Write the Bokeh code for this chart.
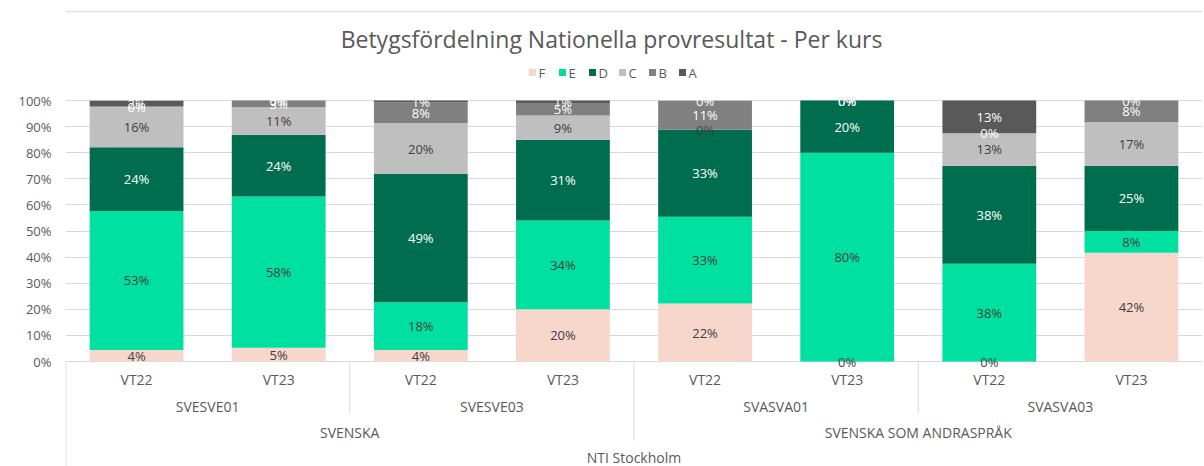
from bokeh.plotting import figure
from bokeh.models import ColumnDataSource, Range1d, FixedTicker, PrintfTickFormatter
from bokeh.core.properties import value
from bokeh.embed import file_html
from bokeh.resources import INLINE

# ---- data ----
terms = ["VT22", "VT23", "VT22", "VT23", "VT22", "VT23", "VT22", "VT23"]
courses = ["SVESVE01", "SVESVE03", "SVASVA01", "SVASVA03"]
subjects = ["SVENSKA", "SVENSKA SOM ANDRASPRÅK"]
school = "NTI Stockholm"
grades = ["F", "E", "D", "C", "B", "A"]

F = [4.4, 5.3, 4.4, 20.0, 22.2, 0.0, 0.0, 41.7]
E = [53.3, 57.9, 18.3, 34.0, 33.3, 80.0, 37.5, 8.3]
D = [24.4, 23.7, 49.1, 31.0, 33.3, 20.0, 37.5, 25.0]
C = [15.6, 10.5, 19.6, 9.3, 0.0, 0.0, 12.5, 16.7]
B = [0.0, 2.6, 7.8, 4.7, 11.1, 0.0, 0.0, 8.3]
A = [2.2, 0.0, 0.8, 1.0, 0.0, 0.0, 12.5, 0.0]

title_text = "Betygsfördelning Nationella provresultat - Per kurs"
y_ticks = [0, 10, 20, 30, 40, 50, 60, 70, 80, 90, 100]

# ---- styles ----
colors = ["#f7d6cc", "#00e0a0", "#006e4e", "#bfbfbf", "#808080", "#595959"]
label_colors = ["#404040", "#404040", "#ffffff", "#404040", "#ffffff", "#ffffff"]
FONT = "Open Sans"
TXT = "#595959"

series = [F, E, D, C, B, A]
n = len(terms)
xs = [i + 0.5 for i in range(n)]

W, H = 1204, 466
LEFT = 65
px_x = (W - 2 - LEFT) / n   # px per category
px_y = 2.61                 # px per percent
y_lo = -(H - 361) / px_y
y_hi = 361 / px_y


def sx(px):
    return (px - LEFT) / px_x


def sy(py):
    return (361 - py) / px_y


p = figure(width=W, height=H, output_backend="svg", toolbar_location=None,
           x_range=Range1d(0, n), y_range=Range1d(y_lo, y_hi),
           x_axis_location=None, tools="")
p.min_border_left = LEFT
p.min_border_right = 2
p.min_border_top = 0
p.min_border_bottom = 0
p.outline_line_color = None
p.background_fill_color = "white"
p.border_fill_color = "white"

p.xgrid.visible = False
p.ygrid.ticker = FixedTicker(ticks=y_ticks)
p.ygrid.grid_line_color = "#d9d9d9"
p.ygrid.grid_line_width = 1

ax = p.yaxis[0]
ax.ticker = FixedTicker(ticks=y_ticks)
ax.formatter = PrintfTickFormatter(format="%d%%")
ax.axis_line_color = None
ax.major_tick_line_color = None
ax.minor_tick_line_color = None
ax.major_label_standoff = 8
ax.major_label_text_font = FONT
ax.major_label_text_font_size = "13px"
ax.major_label_text_color = TXT

# stacked bars
data = {"x": xs}
for g, s in zip(grades, series):
    data[g] = s
src = ColumnDataSource(data)
p.vbar_stack(grades, x="x", width=0.66, color=colors, line_color=None, source=src)

# data labels
lx, ly, lt, lc = [], [], [], []
for i in range(n):
    cum = 0.0
    for gi, s in enumerate(series):
        v = s[i]
        lx.append(xs[i])
        ly.append(cum + v / 2)
        lt.append(f"{int(v + 0.5)}%")
        lc.append(label_colors[gi])
        cum += v
p.text(x=lx, y=ly, text=lt, text_color=lc, text_font=value(FONT),
       text_font_size=value("13px"), text_align="center", text_baseline="middle")

# chart border (top)
p.segment(x0=[0], y0=[sy(11)], x1=[n], y1=[sy(11)], line_color="#e3e3e3", line_width=1.5)

# category axis lines
sep_x = [0.003, 2, 4, 6]
sep_y1 = [y_lo, sy(413), sy(440), sy(413)]
p.segment(x0=sep_x, y0=[0] * 4, x1=sep_x, y1=sep_y1, line_color="#d9d9d9", line_width=1)

# category labels
p.text(x=xs, y=[sy(379)] * n, text=terms, text_color=TXT, text_font=value(FONT),
       text_font_size=value("14px"), text_align="center", text_baseline="middle")
p.text(x=[2 * k + 1 for k in range(len(courses))], y=[sy(406)] * len(courses), text=courses,
       text_color=TXT, text_font=value(FONT), text_font_size=value("14px"),
       text_align="center", text_baseline="middle")
p.text(x=[4 * k + 2 for k in range(len(subjects))], y=[sy(432)] * len(subjects), text=subjects,
       text_color=TXT, text_font=value(FONT), text_font_size=value("14px"),
       text_align="center", text_baseline="middle")
p.text(x=[n / 2], y=[sy(457)], text=[school], text_color=TXT, text_font=value(FONT),
       text_font_size=value("14px"), text_align="center", text_baseline="middle")

# title
p.text(x=[sx(611)], y=[sy(38)], text=[title_text], text_color=TXT,
       text_font=value(FONT), text_font_size=value("23px"), text_align="center",
       text_baseline="middle")

# legend
leg_y = sy(72)
sq_x = [sx(532 + k * 30) for k in range(len(grades))]
p.scatter(x=sq_x, y=[leg_y] * len(grades), marker="square", size=7, color=colors, line_color=None)
p.text(x=[x + 6 / px_x for x in sq_x], y=[leg_y] * len(grades), text=grades, text_color=TXT,
       text_font=value(FONT), text_font_size=value("13px"), text_align="left",
       text_baseline="middle")

open("out.html", "w").write(file_html(p, INLINE))
